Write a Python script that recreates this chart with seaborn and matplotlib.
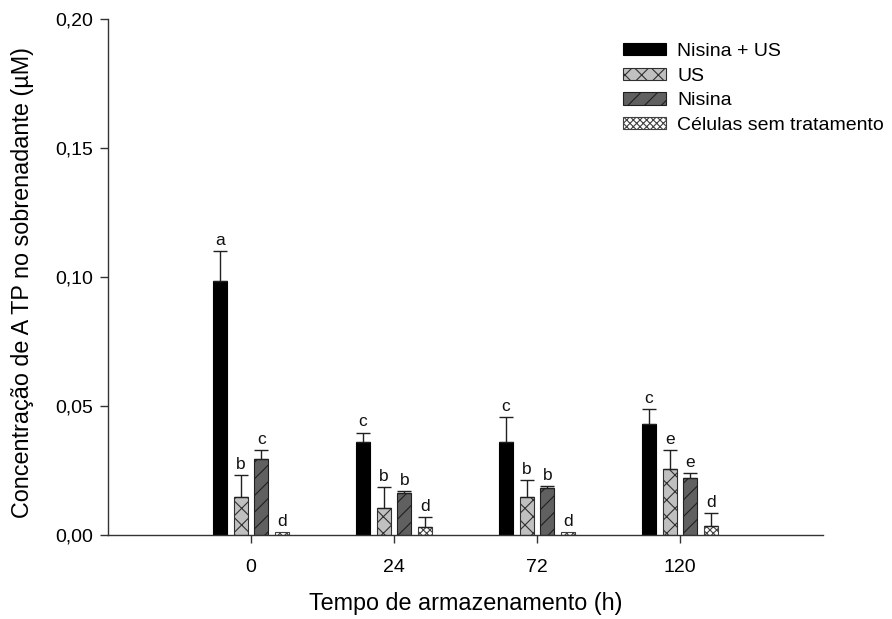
import numpy as np
import pandas as pd
import matplotlib
matplotlib.use("Agg")
import matplotlib.pyplot as plt
import seaborn as sns
from matplotlib.ticker import FuncFormatter
from matplotlib.patches import Patch
from matplotlib.container import BarContainer

tempos = ["0", "24", "72", "120"]
tratamentos = ["Nisina + US", "US", "Nisina", "Células sem tratamento"]
nisina_us = [0.0986, 0.0362, 0.0362, 0.0429]
us = [0.0146, 0.0103, 0.0146, 0.0257]
nisina = [0.0293, 0.0162, 0.0183, 0.0220]
celulas = [0.0013, 0.0030, 0.0010, 0.0035]
nisina_us_err = [0.0116, 0.0035, 0.0094, 0.0059]
us_err = [0.0087, 0.0084, 0.0067, 0.0072]
nisina_err = [0.0036, 0.0010, 0.0008, 0.0019]
celulas_err = [0.0, 0.0041, 0.0, 0.0051]
letras_nisina_us = ["a", "c", "c", "c"]
letras_us = ["b", "b", "b", "e"]
letras_nisina = ["c", "b", "b", "e"]
letras_celulas = ["d", "d", "d", "d"]

valores = [nisina_us, us, nisina, celulas]
erros = [nisina_us_err, us_err, nisina_err, celulas_err]
letras = [letras_nisina_us, letras_us, letras_nisina, letras_celulas]

rows = []
for t, vals in zip(tratamentos, valores):
    for tp, v in zip(tempos, vals):
        rows.append({"Tempo": tp, "Tratamento": t, "ATP": v})
df = pd.DataFrame(rows)

faces = ["#000000", "#c0c0c0", "#606060", "#ffffff"]
edges = ["#000000", "#303030", "#202020", "#404040"]
hatches = [None, "xx", "//", "xxxxx"]

sns.set_style("ticks")
plt.rcParams["font.family"] = ["Liberation Sans", "DejaVu Sans"]
plt.rcParams["hatch.linewidth"] = 0.8
plt.rcParams["text.color"] = "#000000"
plt.rcParams["axes.labelcolor"] = "#000000"
plt.rcParams["xtick.labelcolor"] = "#000000"
plt.rcParams["ytick.labelcolor"] = "#000000"

fig = plt.figure(figsize=(8.92, 6.19), dpi=100)
ax = fig.add_axes([108/892, 1-535/619, (823-108)/892, (535-19)/619])

sns.barplot(data=df, x="Tempo", y="ATP", hue="Tratamento", order=tempos,
            hue_order=tratamentos, width=0.58, gap=0.32, ax=ax,
            palette=faces, saturation=1, legend=False, errorbar=None)

bar_containers = [c for c in ax.containers if isinstance(c, BarContainer)]
for i, cont in enumerate(bar_containers):
    for j, bar in enumerate(cont.patches):
        bar.set_facecolor(faces[i])
        bar.set_edgecolor(edges[i])
        bar.set_linewidth(0.8)
        if hatches[i]:
            bar.set_hatch(hatches[i])
        xc = bar.get_x() + bar.get_width()/2
        h = bar.get_height()
        e = erros[i][j]
        if e > 0:
            ax.errorbar([xc], [h], yerr=[[0], [e]], fmt="none", ecolor="#202020",
                        elinewidth=1, capsize=5, capthick=1)
        ax.text(xc, h + e + 0.0012, letras[i][j], ha="center", va="bottom",
                fontsize=12.5, color="#111111")

ax.set_xlim(-1.0, 4.0)
ax.set_ylim(0, 0.20)
ax.set_yticks([0, 0.05, 0.10, 0.15, 0.20])
ax.yaxis.set_major_formatter(FuncFormatter(lambda v, p: f"{v:.2f}".replace(".", ",")))
ax.tick_params(axis="y", labelsize=14, length=6, width=1, pad=5, color="#333333",
               labelcolor="#000000")
ax.tick_params(axis="x", labelsize=14, length=6, width=1, pad=11, color="#333333",
               labelcolor="#000000")
for s in ["top", "right"]:
    ax.spines[s].set_visible(False)
for s in ["left", "bottom"]:
    ax.spines[s].set_color("#333333")
    ax.spines[s].set_linewidth(1)

ax.set_xlabel("Tempo de armazenamento (h)", fontsize=16.8, labelpad=12, color="#000000")
ax.set_ylabel("Concentração de A TP no sobrenadante (µM)", fontsize=16.8, color="#000000")
ax.yaxis.set_label_coords(-0.104, 0.49)

handles = [Patch(facecolor=faces[i], edgecolor=edges[i], hatch=hatches[i], linewidth=0.8)
           for i in range(4)]
leg = fig.legend(handles, tratamentos, loc="upper left", bbox_to_anchor=(623/892, 1-43/619),
                 frameon=False, fontsize=14, handlelength=2.2, handleheight=0.6,
                 handletextpad=0.6, labelspacing=0.39, borderpad=0, borderaxespad=0)
for t in leg.get_texts():
    t.set_color("#000000")

fig.savefig("out.png", dpi=100)
